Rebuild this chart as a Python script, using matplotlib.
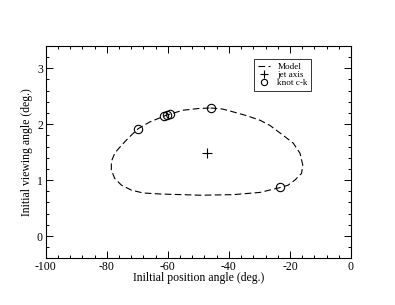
import matplotlib
matplotlib.use("Agg")
import matplotlib.pyplot as plt
from matplotlib.ticker import MultipleLocator

plt.rcParams['font.family'] = ['Liberation Serif', 'DejaVu Serif']
plt.rcParams['axes.unicode_minus'] = False

# Model curve (closed loop)
model_x = [-46.0, -42.0, -38.6, -34.0, -29.8, -26.6, -22.2, -18.9, -16.7, -15.8,
           -16.2, -18.4, -20.6, -23.0, -29.8, -38.6, -49.5, -55.0, -62.0, -68.1,
           -71.9, -75.2, -77.4, -78.5, -78.5, -77.4, -75.7, -73.0, -69.7, -65.9,
           -60.5, -55.0, -50.0, -46.0]
model_y = [2.29, 2.27, 2.22, 2.15, 2.07, 1.98, 1.80, 1.66, 1.48, 1.27,
           1.12, 1.00, 0.91, 0.87, 0.78, 0.74, 0.73, 0.74, 0.75, 0.77,
           0.82, 0.91, 1.03, 1.18, 1.33, 1.48, 1.59, 1.75, 1.92, 2.04,
           2.16, 2.25, 2.28, 2.29]

jet_x = [-47.3]
jet_y = [1.49]

knot_x = [-46.0, -69.8, -61.3, -60.3, -59.3, -23.3]
knot_y = [2.29, 1.91, 2.14, 2.16, 2.18, 0.875]

fig = plt.figure(figsize=(3.95, 3.05), dpi=100)
ax = fig.add_axes([0.1157, 0.1528, 0.7729, 0.6967])

ax.plot(model_x, model_y, color='black', lw=0.8, ls=(0, (6, 3)), label='Model')
ax.plot(jet_x, jet_y, ls='none', marker='+', ms=7.5, mew=0.8, color='black', label='jet axis')
ax.plot(knot_x, knot_y, ls='none', marker='o', ms=6, mfc='none', mec='black', mew=0.8, label='knot c-k')

ax.set_xlim(-100, 0)
ax.set_ylim(-0.4, 3.4)
ax.xaxis.set_major_locator(MultipleLocator(20))
ax.xaxis.set_minor_locator(MultipleLocator(4))
ax.yaxis.set_major_locator(MultipleLocator(1))
ax.yaxis.set_minor_locator(MultipleLocator(0.2))
ax.tick_params(which='both', direction='in', top=True, right=True, labelsize=8.5, width=0.7, pad=2)
ax.tick_params(which='major', length=5)
ax.tick_params(which='minor', length=2.5)
for s in ax.spines.values():
    s.set_linewidth(0.8)

ax.set_xlabel('Iniltial position angle (deg.)', fontsize=8.5, labelpad=-0.5)
ax.set_ylabel('Initial viewing angle (deg.)', fontsize=8.5, labelpad=3)

leg = ax.legend(loc='upper left', bbox_to_anchor=(0.682, 0.937), fontsize=6.6, frameon=True,
                fancybox=False, edgecolor='black', borderpad=0.4, labelspacing=-0.05,
                handlelength=1.4, handletextpad=0.75, borderaxespad=0, markerscale=0.75)
leg.get_frame().set_linewidth(0.7)

fig.savefig('out.png', dpi=100)
